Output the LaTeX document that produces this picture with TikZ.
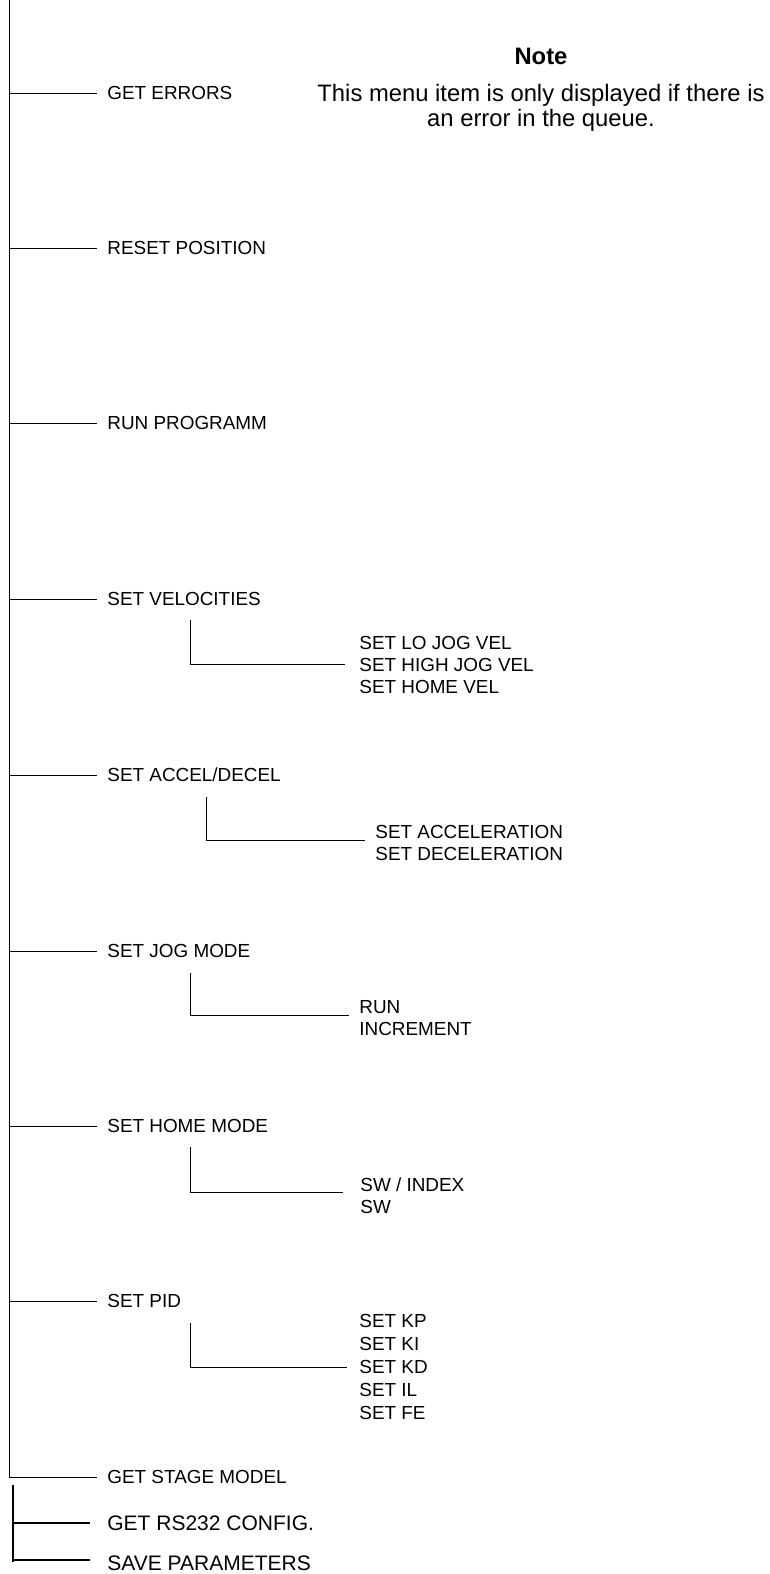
\documentclass[tikz,border=0pt]{standalone}
\usepackage{fontspec}
\setsansfont{Liberation Sans}
\usetikzlibrary{positioning}

\begin{document}
\begin{tikzpicture}[
    x=0.5pt, y=-0.5pt,
    every node/.style={font=\sffamily\fontsize{9.45}{11}\selectfont},
    menuitem/.style={anchor=west, inner xsep=5pt, inner ysep=0pt},
    lowitem/.style={anchor=west, inner xsep=8.5pt, inner ysep=0pt, font=\sffamily\fontsize{10.5}{12}\selectfont},
    sublist/.style={anchor=north west, align=left, inner sep=0pt},
    notehead/.style={anchor=base, inner sep=0pt, font=\bfseries\sffamily\fontsize{11.9}{12}\selectfont},
    notetext/.style={anchor=north, align=center, inner sep=0pt, font=\sffamily\fontsize{11.9}{12.3}\selectfont},
    line/.style={line width=0.5pt},
    boldline/.style={line width=0.8pt}
]
    \useasboundingbox (0,0) rectangle (770,1574);

    % Main trunk
    \coordinate (trunk_top) at (9,0);
    \coordinate (trunk_end) at (9,1477);
    \draw [line] (trunk_top) -- (trunk_end);

    % Note
    \node[notehead] (note_head) at (541,64) {Note};
    \node[notetext] (note_text) at (541,84) {This menu item is only displayed if there is\\an error in the queue.};

    % Menu items
    \node[menuitem] (errors) at (97,93) {GET ERRORS};
    \node[menuitem] (reset) at (97,248) {RESET POSITION};
    \node[menuitem] (run) at (97,423) {RUN PROGRAMM};
    \node[menuitem] (vel) at (97,599) {SET VELOCITIES};
    \node[menuitem] (accel) at (97,775) {SET ACCEL/DECEL};
    \node[menuitem] (jog) at (97,951) {SET JOG MODE};
    \node[menuitem] (home) at (97,1126) {SET HOME MODE};
    \node[menuitem] (pid) at (97,1301) {SET PID};
    \node[menuitem] (stage) at (97,1477) {GET STAGE MODEL};

    % Branches from the trunk
    \draw [line] (9,93) -- (errors.west);
    \draw [line] (9,248) -- (reset.west);
    \draw [line] (9,423) -- (run.west);
    \draw [line] (9,599) -- (vel.west);
    \draw [line] (9,775) -- (accel.west);
    \draw [line] (9,951) -- (jog.west);
    \draw [line] (9,1126) -- (home.west);
    \draw [line] (9,1301) -- (pid.west);
    \draw [line] (trunk_end) -- (stage.west);

    % Sub menus
    \node[sublist] (vel_list) at (359,636) {SET LO JOG VEL\\SET HIGH JOG VEL\\SET HOME VEL};
    \coordinate (vel_top) at (190,620);
    \coordinate (vel_end) at (345,664);
    \draw [line] (vel_top) |- (vel_end);

    \node[sublist] (accel_list) at (375,825) {SET ACCELERATION\\SET DECELERATION};
    \coordinate (accel_top) at (206,797);
    \coordinate (accel_end) at (365,840);
    \draw [line] (accel_top) |- (accel_end);

    \node[sublist] (jog_list) at (359,1000) {RUN\\INCREMENT};
    \coordinate (jog_top) at (190,973);
    \coordinate (jog_end) at (349,1015);
    \draw [line] (jog_top) |- (jog_end);

    \node[sublist] (home_list) at (360,1177) {SW / INDEX\\SW};
    \coordinate (home_top) at (190,1147);
    \coordinate (home_end) at (343,1192);
    \draw [line] (home_top) |- (home_end);

    \node[sublist, font=\sffamily\fontsize{9.45}{11.5}\selectfont] (pid_list) at (359,1314) {SET KP\\SET KI\\SET KD\\SET IL\\SET FE};
    \coordinate (pid_top) at (190,1323);
    \coordinate (pid_end) at (347,1367);
    \draw [line] (pid_top) |- (pid_end);

    % Lower bracket
    \coordinate (low_top) at (13,1485);
    \coordinate (low_end) at (13,1562);
    \node[lowitem] (rs232) at (90,1523) {GET RS232 CONFIG.};
    \node[lowitem] (save) at (90,1563) {SAVE PARAMETERS};
    \draw [boldline] (low_top) -- (low_end);
    \draw [boldline] (13,1523) -- (rs232.west);
    \draw [boldline] (13,1560) -- (save.west |- 13,1560);

\end{tikzpicture}
\end{document}
